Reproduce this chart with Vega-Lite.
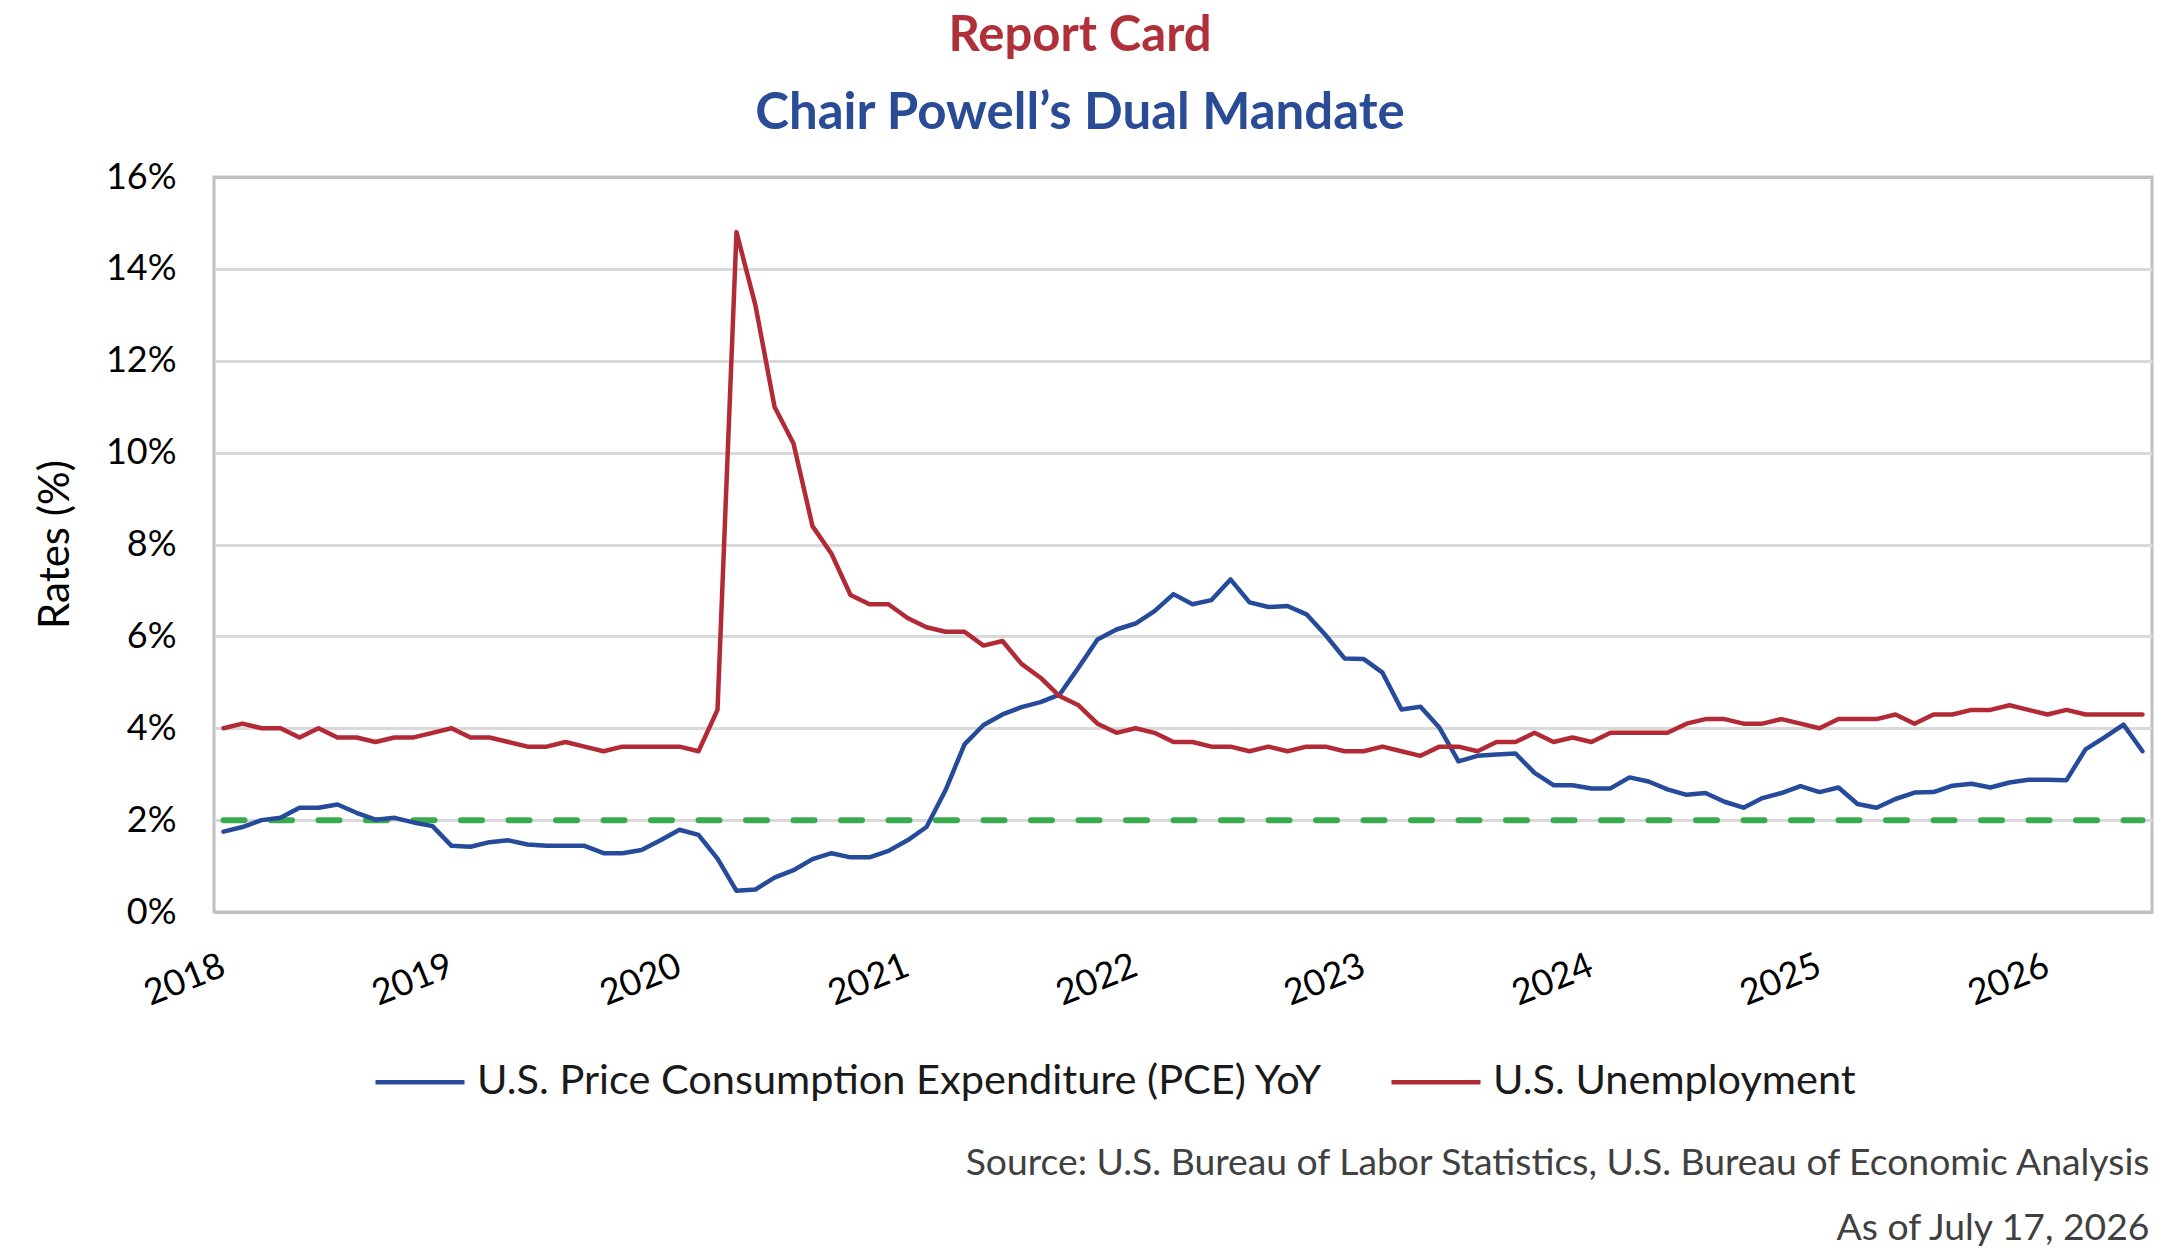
{
  "$schema": "https://vega.github.io/schema/vega-lite/v6.json",
  "width": 1938,
  "height": 735,
  "autosize": {"type": "none"},
  "padding": {"left": 214, "top": 177, "right": 8, "bottom": 339},
  "background": "white",
  "title": {
    "text": "Report Card",
    "subtitle": "Chair Powell’s Dual Mandate",
    "anchor": "middle",
    "dx": -103,
    "font": "Lato",
    "fontSize": 49,
    "fontWeight": "bold",
    "color": "#B0303A",
    "subtitleFont": "Lato",
    "subtitleFontSize": 51,
    "subtitleFontWeight": "bold",
    "subtitleColor": "#2A4B96",
    "subtitlePadding": 28,
    "offset": 20
  },
  "config": {
    "font": "Lato",
    "view": {"stroke": "#BFBFBF", "strokeWidth": 3}
  },
  "resolve": {"axis": {"x": "independent", "y": "independent"}},
  "layer": [
    {
      "data": {"values": [{"start": "2018-01", "end": "2026-06", "target": 2}]},
      "mark": {"type": "rule", "color": "#3AAA4E", "strokeWidth": 6, "strokeDash": [21, 26.5], "strokeCap": "round"},
      "encoding": {
        "x": {"field": "start", "type": "ordinal", "axis": null},
        "x2": {"field": "end"},
        "y": {"field": "target", "type": "quantitative", "axis": null}
      }
    },
    {
      "data": {
        "values": [
          {"month": "2018-01", "pce": 1.75, "unemployment": 4.0},
          {"month": "2018-02", "pce": 1.85, "unemployment": 4.1},
          {"month": "2018-03", "pce": 2.00, "unemployment": 4.0},
          {"month": "2018-04", "pce": 2.05, "unemployment": 4.0},
          {"month": "2018-05", "pce": 2.27, "unemployment": 3.8},
          {"month": "2018-06", "pce": 2.27, "unemployment": 4.0},
          {"month": "2018-07", "pce": 2.34, "unemployment": 3.8},
          {"month": "2018-08", "pce": 2.16, "unemployment": 3.8},
          {"month": "2018-09", "pce": 2.01, "unemployment": 3.7},
          {"month": "2018-10", "pce": 2.05, "unemployment": 3.8},
          {"month": "2018-11", "pce": 1.95, "unemployment": 3.8},
          {"month": "2018-12", "pce": 1.87, "unemployment": 3.9},
          {"month": "2019-01", "pce": 1.44, "unemployment": 4.0},
          {"month": "2019-02", "pce": 1.42, "unemployment": 3.8},
          {"month": "2019-03", "pce": 1.52, "unemployment": 3.8},
          {"month": "2019-04", "pce": 1.56, "unemployment": 3.7},
          {"month": "2019-05", "pce": 1.47, "unemployment": 3.6},
          {"month": "2019-06", "pce": 1.44, "unemployment": 3.6},
          {"month": "2019-07", "pce": 1.44, "unemployment": 3.7},
          {"month": "2019-08", "pce": 1.44, "unemployment": 3.6},
          {"month": "2019-09", "pce": 1.28, "unemployment": 3.5},
          {"month": "2019-10", "pce": 1.28, "unemployment": 3.6},
          {"month": "2019-11", "pce": 1.35, "unemployment": 3.6},
          {"month": "2019-12", "pce": 1.56, "unemployment": 3.6},
          {"month": "2020-01", "pce": 1.79, "unemployment": 3.6},
          {"month": "2020-02", "pce": 1.68, "unemployment": 3.5},
          {"month": "2020-03", "pce": 1.16, "unemployment": 4.4},
          {"month": "2020-04", "pce": 0.46, "unemployment": 14.8},
          {"month": "2020-05", "pce": 0.49, "unemployment": 13.2},
          {"month": "2020-06", "pce": 0.75, "unemployment": 11.0},
          {"month": "2020-07", "pce": 0.91, "unemployment": 10.2},
          {"month": "2020-08", "pce": 1.15, "unemployment": 8.4},
          {"month": "2020-09", "pce": 1.28, "unemployment": 7.8},
          {"month": "2020-10", "pce": 1.19, "unemployment": 6.9},
          {"month": "2020-11", "pce": 1.19, "unemployment": 6.7},
          {"month": "2020-12", "pce": 1.33, "unemployment": 6.7},
          {"month": "2021-01", "pce": 1.56, "unemployment": 6.4},
          {"month": "2021-02", "pce": 1.85, "unemployment": 6.2},
          {"month": "2021-03", "pce": 2.65, "unemployment": 6.1},
          {"month": "2021-04", "pce": 3.65, "unemployment": 6.1},
          {"month": "2021-05", "pce": 4.07, "unemployment": 5.8},
          {"month": "2021-06", "pce": 4.30, "unemployment": 5.9},
          {"month": "2021-07", "pce": 4.46, "unemployment": 5.4},
          {"month": "2021-08", "pce": 4.57, "unemployment": 5.1},
          {"month": "2021-09", "pce": 4.73, "unemployment": 4.7},
          {"month": "2021-10", "pce": 5.32, "unemployment": 4.5},
          {"month": "2021-11", "pce": 5.93, "unemployment": 4.1},
          {"month": "2021-12", "pce": 6.15, "unemployment": 3.9},
          {"month": "2022-01", "pce": 6.28, "unemployment": 4.0},
          {"month": "2022-02", "pce": 6.55, "unemployment": 3.9},
          {"month": "2022-03", "pce": 6.92, "unemployment": 3.7},
          {"month": "2022-04", "pce": 6.70, "unemployment": 3.7},
          {"month": "2022-05", "pce": 6.79, "unemployment": 3.6},
          {"month": "2022-06", "pce": 7.24, "unemployment": 3.6},
          {"month": "2022-07", "pce": 6.74, "unemployment": 3.5},
          {"month": "2022-08", "pce": 6.64, "unemployment": 3.6},
          {"month": "2022-09", "pce": 6.66, "unemployment": 3.5},
          {"month": "2022-10", "pce": 6.48, "unemployment": 3.6},
          {"month": "2022-11", "pce": 6.03, "unemployment": 3.6},
          {"month": "2022-12", "pce": 5.52, "unemployment": 3.5},
          {"month": "2023-01", "pce": 5.51, "unemployment": 3.5},
          {"month": "2023-02", "pce": 5.21, "unemployment": 3.6},
          {"month": "2023-03", "pce": 4.41, "unemployment": 3.5},
          {"month": "2023-04", "pce": 4.47, "unemployment": 3.4},
          {"month": "2023-05", "pce": 4.01, "unemployment": 3.6},
          {"month": "2023-06", "pce": 3.28, "unemployment": 3.6},
          {"month": "2023-07", "pce": 3.40, "unemployment": 3.5},
          {"month": "2023-08", "pce": 3.43, "unemployment": 3.7},
          {"month": "2023-09", "pce": 3.45, "unemployment": 3.7},
          {"month": "2023-10", "pce": 3.03, "unemployment": 3.9},
          {"month": "2023-11", "pce": 2.76, "unemployment": 3.7},
          {"month": "2023-12", "pce": 2.76, "unemployment": 3.8},
          {"month": "2024-01", "pce": 2.69, "unemployment": 3.7},
          {"month": "2024-02", "pce": 2.69, "unemployment": 3.9},
          {"month": "2024-03", "pce": 2.93, "unemployment": 3.9},
          {"month": "2024-04", "pce": 2.84, "unemployment": 3.9},
          {"month": "2024-05", "pce": 2.67, "unemployment": 3.9},
          {"month": "2024-06", "pce": 2.55, "unemployment": 4.1},
          {"month": "2024-07", "pce": 2.59, "unemployment": 4.2},
          {"month": "2024-08", "pce": 2.40, "unemployment": 4.2},
          {"month": "2024-09", "pce": 2.27, "unemployment": 4.1},
          {"month": "2024-10", "pce": 2.48, "unemployment": 4.1},
          {"month": "2024-11", "pce": 2.59, "unemployment": 4.2},
          {"month": "2024-12", "pce": 2.74, "unemployment": 4.1},
          {"month": "2025-01", "pce": 2.61, "unemployment": 4.0},
          {"month": "2025-02", "pce": 2.71, "unemployment": 4.2},
          {"month": "2025-03", "pce": 2.35, "unemployment": 4.2},
          {"month": "2025-04", "pce": 2.27, "unemployment": 4.2},
          {"month": "2025-05", "pce": 2.46, "unemployment": 4.3},
          {"month": "2025-06", "pce": 2.60, "unemployment": 4.1},
          {"month": "2025-07", "pce": 2.61, "unemployment": 4.3},
          {"month": "2025-08", "pce": 2.75, "unemployment": 4.3},
          {"month": "2025-09", "pce": 2.79, "unemployment": 4.4},
          {"month": "2025-10", "pce": 2.71, "unemployment": 4.4},
          {"month": "2025-11", "pce": 2.82, "unemployment": 4.5},
          {"month": "2025-12", "pce": 2.88, "unemployment": 4.4},
          {"month": "2026-01", "pce": 2.88, "unemployment": 4.3},
          {"month": "2026-02", "pce": 2.87, "unemployment": 4.4},
          {"month": "2026-03", "pce": 3.54, "unemployment": 4.3},
          {"month": "2026-04", "pce": 3.80, "unemployment": 4.3},
          {"month": "2026-05", "pce": 4.08, "unemployment": 4.3},
          {"month": "2026-06", "pce": 3.50, "unemployment": 4.3}
        ]
      },
      "transform": [{"fold": ["pce", "unemployment"], "as": ["series", "rate"]}],
      "mark": {"type": "line", "strokeWidth": 4.5, "strokeJoin": "round", "strokeCap": "round"},
      "encoding": {
        "x": {
          "field": "month",
          "type": "ordinal",
          "axis": {
            "values": ["2018-01", "2019-01", "2020-01", "2021-01", "2022-01", "2023-01", "2024-01", "2025-01", "2026-01"],
            "labelExpr": "slice(datum.value, 0, 4)",
            "labelAngle": -22,
            "labelAlign": "right",
            "labelBaseline": "middle",
            "labelFontSize": 36,
            "labelColor": "#000000",
            "labelPadding": 52,
            "ticks": false,
            "domain": false,
            "grid": false,
            "title": ["Source: U.S. Bureau of Labor Statistics, U.S. Bureau of Economic Analysis", "As of July 17, 2026"],
            "titleFontSize": 37.3,
            "titleFontWeight": "normal",
            "titleColor": "#404040",
            "titleAlign": "right",
            "titleAnchor": "end",
            "titleBaseline": "alphabetic",
            "titleLineHeight": 65,
            "titleX": 1935,
            "titleY": 262
          }
        },
        "y": {
          "field": "rate",
          "type": "quantitative",
          "scale": {"domain": [0, 16], "nice": false},
          "axis": {
            "values": [0, 2, 4, 6, 8, 10, 12, 14, 16],
            "labelExpr": "datum.value + '%'",
            "labelFontSize": 36,
            "labelColor": "#000000",
            "labelPadding": 38,
            "labelFlush": false,
            "ticks": false,
            "domain": false,
            "grid": true,
            "gridColor": {"condition": {"test": "datum.value == 0 || datum.value == 16", "value": "#BFBFBF"}, "value": "#D9D9D9"},
            "gridWidth": 3,
            "title": "Rates (%)",
            "titleFontSize": 42,
            "titleFontWeight": "normal",
            "titleColor": "#000000",
            "titleAngle": -90,
            "titleAlign": "center",
            "titleBaseline": "middle",
            "titleX": -159,
            "titleY": 367
          }
        },
        "color": {
          "field": "series",
          "type": "nominal",
          "scale": {"domain": ["pce", "unemployment"], "range": ["#264B9A", "#B22A35"]},
          "legend": {
            "orient": "none",
            "legendX": 159,
            "legendY": 858,
            "direction": "horizontal",
            "title": null,
            "symbolType": "stroke",
            "symbolSize": 7921,
            "symbolStrokeWidth": 4.5,
            "labelFontSize": 41.5,
            "labelColor": "#1A1A1A",
            "labelOffset": 10,
            "labelLimit": 2000,
            "columnPadding": 59,
            "labelExpr": "datum.value == 'pce' ? 'U.S. Price Consumption Expenditure (PCE) YoY' : 'U.S. Unemployment'"
          }
        }
      }
    }
  ]
}
